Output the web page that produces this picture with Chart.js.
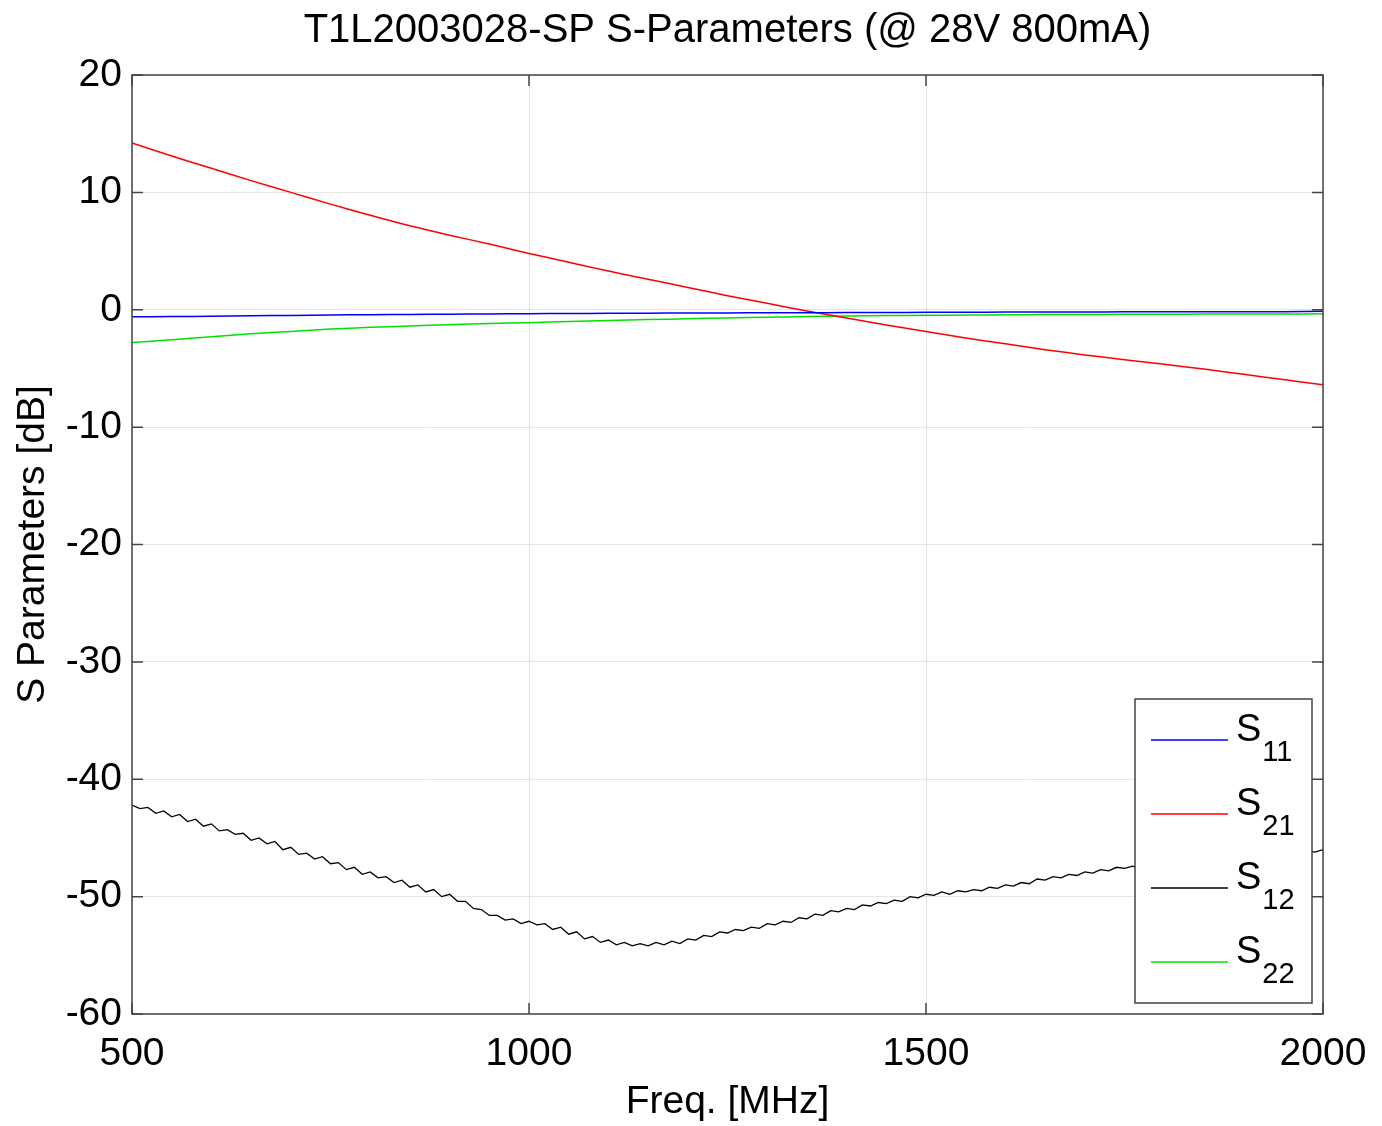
<!DOCTYPE html>
<html>
<head>
<meta charset="utf-8">
<script src="https://cdn.jsdelivr.net/npm/chart.js@4.4.1/dist/chart.umd.min.js"></script>
<style>
html,body{margin:0;padding:0;background:#fff;}
#wrap{width:1382px;height:1126px;position:relative;}
</style>
</head>
<body>
<div id="wrap"><canvas id="c" width="1382" height="1126"></canvas></div>
<script>
const titleText = "T1L2003028-SP S-Parameters (@ 28V 800mA)";
const xTitle = "Freq. [MHz]";
const yTitle = "S Parameters [dB]";
const xTicks = [500, 1000, 1500, 2000];
const yTicks = [-60, -50, -40, -30, -20, -10, 0, 10, 20];
const seriesNames = ["S11", "S21", "S12", "S22"];

// smooth traces, 50 MHz steps
const freqSmooth = [500,550,600,650,700,750,800,850,900,950,1000,1050,1100,1150,1200,1250,1300,1350,1400,1450,1500,1550,1600,1650,1700,1750,1800,1850,1900,1950,2000];
const s11 = [-0.60,-0.58,-0.55,-0.52,-0.48,-0.45,-0.42,-0.40,-0.38,-0.36,-0.34,-0.32,-0.30,-0.29,-0.28,-0.27,-0.26,-0.25,-0.24,-0.23,-0.22,-0.21,-0.20,-0.20,-0.19,-0.18,-0.18,-0.17,-0.16,-0.16,-0.12];
const s21 = [14.2,13.1,12.05,11.0,10.0,9.0,8.05,7.15,6.35,5.6,4.8,4.05,3.3,2.6,1.9,1.2,0.55,-0.1,-0.7,-1.3,-1.85,-2.4,-2.9,-3.4,-3.85,-4.25,-4.65,-5.05,-5.5,-5.95,-6.4];
const s22 = [-2.8,-2.55,-2.3,-2.05,-1.85,-1.65,-1.5,-1.38,-1.27,-1.17,-1.1,-1.0,-0.92,-0.84,-0.76,-0.7,-0.64,-0.58,-0.54,-0.5,-0.47,-0.45,-0.43,-0.41,-0.4,-0.39,-0.38,-0.37,-0.36,-0.36,-0.35];

// noisy S12 trace, 10 MHz steps
const freqS12 = [500,510,520,530,540,550,560,570,580,590,600,610,620,630,640,650,660,670,680,690,700,710,720,730,740,750,760,770,780,790,800,810,820,830,840,850,860,870,880,890,900,910,920,930,940,950,960,970,980,990,1000,1010,1020,1030,1040,1050,1060,1070,1080,1090,1100,1110,1120,1130,1140,1150,1160,1170,1180,1190,1200,1210,1220,1230,1240,1250,1260,1270,1280,1290,1300,1310,1320,1330,1340,1350,1360,1370,1380,1390,1400,1410,1420,1430,1440,1450,1460,1470,1480,1490,1500,1510,1520,1530,1540,1550,1560,1570,1580,1590,1600,1610,1620,1630,1640,1650,1660,1670,1680,1690,1700,1710,1720,1730,1740,1750,1760,1770,1780,1790,1800,1810,1820,1830,1840,1850,1860,1870,1880,1890,1900,1910,1920,1930,1940,1950,1960,1970,1980,1990,2000];
const s12 = [-42.2,-42.5,-42.4,-42.9,-42.7,-43.2,-43.0,-43.6,-43.4,-44.0,-43.8,-44.4,-44.3,-44.7,-44.6,-45.2,-45.0,-45.5,-45.3,-46.0,-45.8,-46.4,-46.3,-46.8,-46.6,-47.2,-47.1,-47.7,-47.5,-48.1,-47.9,-48.4,-48.3,-48.8,-48.6,-49.2,-49.0,-49.6,-49.4,-50.0,-49.8,-50.4,-50.4,-51.0,-51.1,-51.6,-51.6,-52.0,-51.9,-52.3,-52.1,-52.4,-52.3,-52.8,-52.6,-53.2,-53.0,-53.6,-53.4,-53.9,-53.7,-54.1,-53.9,-54.2,-54.0,-54.2,-53.9,-54.1,-53.8,-54.0,-53.6,-53.7,-53.3,-53.4,-53.0,-53.1,-52.8,-52.9,-52.6,-52.7,-52.3,-52.4,-52.1,-52.2,-51.8,-51.9,-51.5,-51.6,-51.2,-51.3,-51.0,-51.1,-50.7,-50.8,-50.5,-50.6,-50.3,-50.4,-50.0,-50.1,-49.8,-49.9,-49.6,-49.8,-49.5,-49.6,-49.4,-49.5,-49.2,-49.3,-49.0,-49.1,-48.8,-48.9,-48.5,-48.6,-48.3,-48.4,-48.1,-48.2,-47.9,-48.0,-47.7,-47.8,-47.5,-47.6,-47.4,-47.6,-47.4,-47.5,-47.3,-47.4,-47.2,-47.3,-47.1,-47.2,-47.0,-47.0,-46.8,-46.9,-46.7,-46.8,-46.6,-46.6,-46.4,-46.5,-46.3,-46.3,-46.1,-46.2,-46.0];

function pts(xs, ys){ return xs.map((x,i)=>({x:x, y:ys[i]})); }

const FONT = "'Liberation Sans', Arial, Helvetica, sans-serif";
const colors = {S11:'#0000ff', S21:'#ff0000', S12:'#000000', S22:'#00e000'};

const frameAndLegend = {
  id:'frameAndLegend',
  afterDatasetsDraw(chart){
    const ctx = chart.ctx, ca = chart.chartArea;
    const xs = chart.scales.x, ys = chart.scales.y;
    ctx.save();
    // title centred over the plot area
    ctx.fillStyle = '#000';
    ctx.font = '40px ' + FONT;
    ctx.textAlign = 'center';
    ctx.textBaseline = 'middle';
    ctx.fillText(titleText, (ca.left + ca.right) / 2, 31);
    // legend box
    const lw = 177, lh = 304;
    const lx = ca.right - 11 - lw, ly = ca.bottom - 11 - lh;
    ctx.fillStyle = '#fff';
    ctx.fillRect(lx, ly, lw, lh);
    ctx.strokeStyle = '#444';
    ctx.lineWidth = 1.5;
    ctx.strokeRect(lx, ly, lw, lh);
    const order = chart.data.datasets;
    order.forEach((ds, i) => {
      const cy = ly + 41 + i * 74;
      ctx.strokeStyle = ds.borderColor;
      ctx.lineWidth = 1.3;
      ctx.beginPath();
      ctx.moveTo(lx + 16, cy);
      ctx.lineTo(lx + 93, cy);
      ctx.stroke();
      ctx.fillStyle = '#000';
      ctx.textBaseline = 'alphabetic';
      ctx.textAlign = 'left';
      ctx.font = '38px ' + FONT;
      ctx.fillText(ds.label.charAt(0), lx + 101, cy + 1);
      const sw = ctx.measureText(ds.label.charAt(0)).width;
      ctx.font = '29px ' + FONT;
      ctx.fillText(ds.label.slice(1), lx + 101 + sw + 1, cy + 21);
    });
    // frame
    ctx.strokeStyle = '#444';
    ctx.lineWidth = 1.5;
    ctx.strokeRect(ca.left, ca.top, ca.right - ca.left, ca.bottom - ca.top);
    // inward ticks
    const tl = 11;
    ctx.beginPath();
    xTicks.forEach(v => {
      const px = xs.getPixelForValue(v);
      ctx.moveTo(px, ca.bottom); ctx.lineTo(px, ca.bottom - tl);
      ctx.moveTo(px, ca.top); ctx.lineTo(px, ca.top + tl);
    });
    yTicks.forEach(v => {
      const py = ys.getPixelForValue(v);
      ctx.moveTo(ca.left, py); ctx.lineTo(ca.left + tl, py);
      if (py < ly - 1 || py > ly + lh + 1) { ctx.moveTo(ca.right, py); ctx.lineTo(ca.right - tl, py); }
      else { ctx.moveTo(ca.right, py); ctx.lineTo(lx + lw, py); }
    });
    ctx.stroke();
    ctx.restore();
  }
};

new Chart(document.getElementById('c'), {
  type: 'line',
  data: {
    datasets: [
      {label: seriesNames[0], data: pts(freqSmooth, s11), borderColor: colors.S11, borderWidth: 1.5, pointRadius: 0, tension: 0.3},
      {label: seriesNames[1], data: pts(freqSmooth, s21), borderColor: colors.S21, borderWidth: 1.5, pointRadius: 0, tension: 0.3},
      {label: seriesNames[2], data: pts(freqS12, s12), borderColor: colors.S12, borderWidth: 1.3, pointRadius: 0, tension: 0},
      {label: seriesNames[3], data: pts(freqSmooth, s22), borderColor: colors.S22, borderWidth: 1.5, pointRadius: 0, tension: 0.3}
    ]
  },
  options: {
    responsive: false,
    animation: false,
    layout: {padding: {left: 0, right: 59, top: 75, bottom: 0}},
    plugins: {
      legend: {display: false},
      tooltip: {enabled: false},
      title: {display: false}
    },
    scales: {
      x: {
        type: 'linear', min: 500, max: 2000,
        afterBuildTicks(s){ s.ticks = xTicks.map(v => ({value: v})); },
        afterFit(s){ s.height = 112; s.paddingLeft = 0; s.paddingRight = 0; },
        grid: {color: 'rgba(0,0,0,0.10)', lineWidth: 1, drawTicks: false},
        border: {display: false},
        ticks: {color: '#000', padding: 17, maxRotation: 0, font: {family: FONT, size: 39}, callback: v => String(v)},
        title: {display: true, text: xTitle, color: '#000', font: {family: FONT, size: 39}, padding: {top: 0, bottom: 0}}
      },
      y: {
        type: 'linear', min: -60, max: 20,
        afterBuildTicks(s){ s.ticks = yTicks.map(v => ({value: v})); },
        afterFit(s){ s.width = 132; s.paddingTop = 0; s.paddingBottom = 0; },
        grid: {color: 'rgba(0,0,0,0.10)', lineWidth: 1, drawTicks: false},
        border: {display: false},
        ticks: {color: '#000', padding: 10, font: {family: FONT, size: 39}, callback: v => String(v)},
        title: {display: true, text: yTitle, color: '#000', font: {family: FONT, size: 39}, padding: {top: 10, bottom: 0}}
      }
    }
  },
  plugins: [frameAndLegend]
});
</script>
</body>
</html>
